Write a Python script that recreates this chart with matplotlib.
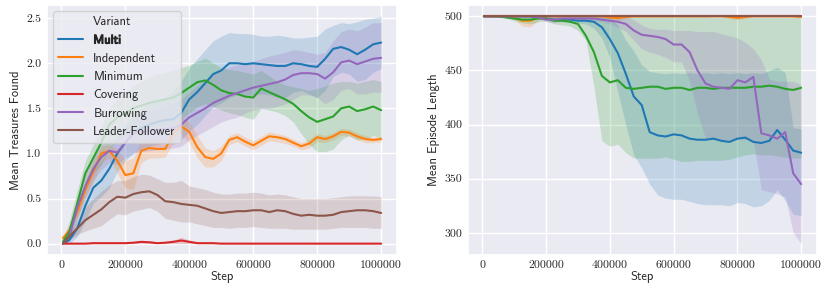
import matplotlib
matplotlib.use("Agg")
import matplotlib.pyplot as plt
import matplotlib.patheffects as pe
from matplotlib.lines import Line2D
from matplotlib.ticker import FuncFormatter, MultipleLocator
import seaborn as sns

# ---------------- data ----------------
steps = [5000, 25000, 50000, 75000, 100000, 125000, 150000, 175000, 200000, 225000,
         250000, 275000, 300000, 325000, 350000, 375000, 400000, 425000, 450000, 475000,
         500000, 525000, 550000, 575000, 600000, 625000, 650000, 675000, 700000, 725000,
         750000, 775000, 800000, 825000, 850000, 875000, 900000, 925000, 950000, 975000,
         1000000]

variants = ["Multi", "Independent", "Minimum", "Covering", "Burrowing", "Leader-Follower"]
colors = ["#1f77b4", "#ff7f0e", "#2ca02c", "#d62728", "#9467bd", "#8c564b"]

# --- Mean Treasures Found (left) ---
tr_multi = [0.00, 0.04, 0.17, 0.42, 0.62, 0.70, 0.83, 1.00, 1.12, 1.22,
            1.28, 1.32, 1.35, 1.37, 1.38, 1.45, 1.60, 1.68, 1.78, 1.88,
            1.92, 2.00, 2.00, 1.99, 2.00, 1.99, 1.98, 1.97, 1.97, 2.00,
            1.99, 1.97, 1.96, 2.05, 2.16, 2.18, 2.15, 2.10, 2.15, 2.21,
            2.23]
tr_multi_hi = [0.02, 0.10, 0.30, 0.60, 0.82, 0.92, 1.05, 1.20, 1.32, 1.42,
               1.50, 1.55, 1.58, 1.62, 1.70, 1.80, 1.95, 2.05, 2.15, 2.25,
               2.30, 2.34, 2.33, 2.33, 2.32, 2.30, 2.30, 2.31, 2.30, 2.28,
               2.28, 2.29, 2.30, 2.38, 2.42, 2.45, 2.44, 2.46, 2.49, 2.50,
               2.52]
tr_multi_lo = [0.00, 0.00, 0.08, 0.25, 0.45, 0.52, 0.62, 0.80, 0.92, 1.00,
               1.05, 1.08, 1.10, 1.12, 1.10, 1.15, 1.25, 1.32, 1.42, 1.52,
               1.56, 1.62, 1.65, 1.64, 1.65, 1.66, 1.65, 1.62, 1.62, 1.68,
               1.70, 1.66, 1.62, 1.70, 1.85, 1.90, 1.88, 1.80, 1.82, 1.90,
               1.94]

tr_indep = [0.06, 0.15, 0.35, 0.60, 0.80, 1.00, 1.03, 0.92, 0.76, 0.78,
            1.03, 1.06, 1.05, 1.05, 1.22, 1.30, 1.24, 1.07, 0.96, 0.94,
            1.00, 1.15, 1.18, 1.13, 1.09, 1.14, 1.19, 1.18, 1.16, 1.12,
            1.08, 1.11, 1.18, 1.16, 1.19, 1.24, 1.23, 1.19, 1.16, 1.15,
            1.16]
tr_indep_hi = [0.08, 0.20, 0.42, 0.70, 0.92, 1.08, 1.10, 1.05, 0.92, 0.95,
               1.16, 1.17, 1.15, 1.14, 1.32, 1.40, 1.35, 1.20, 1.06, 1.03,
               1.08, 1.20, 1.23, 1.18, 1.14, 1.19, 1.24, 1.22, 1.20, 1.16,
               1.12, 1.16, 1.22, 1.20, 1.23, 1.28, 1.27, 1.23, 1.20, 1.18,
               1.19]
tr_indep_lo = [0.04, 0.10, 0.28, 0.50, 0.68, 0.90, 0.95, 0.78, 0.62, 0.60,
               0.90, 0.95, 0.95, 0.96, 1.12, 1.20, 1.12, 0.95, 0.85, 0.85,
               0.92, 1.10, 1.13, 1.08, 1.04, 1.09, 1.14, 1.13, 1.11, 1.08,
               1.04, 1.06, 1.13, 1.12, 1.15, 1.20, 1.19, 1.15, 1.12, 1.12,
               1.13]

tr_min = [0.02, 0.13, 0.45, 0.78, 0.95, 1.12, 1.32, 1.40, 1.45, 1.50,
          1.53, 1.56, 1.58, 1.60, 1.62, 1.67, 1.73, 1.79, 1.81, 1.76,
          1.70, 1.67, 1.66, 1.63, 1.62, 1.72, 1.68, 1.64, 1.60, 1.55,
          1.47, 1.40, 1.35, 1.38, 1.41, 1.50, 1.52, 1.47, 1.49, 1.52,
          1.48]
tr_min_hi = [0.05, 0.25, 0.60, 0.92, 1.10, 1.30, 1.50, 1.60, 1.68, 1.75,
             1.80, 1.85, 1.88, 1.90, 1.92, 1.95, 1.98, 2.02, 2.06, 2.00,
             1.95, 1.93, 1.92, 1.90, 1.88, 1.92, 1.86, 1.80, 1.76, 1.74,
             1.72, 1.70, 1.72, 1.75, 1.78, 1.80, 1.80, 1.78, 1.80, 1.82,
             1.80]
tr_min_lo = [0.00, 0.08, 0.30, 0.58, 0.78, 0.88, 1.05, 1.15, 1.20, 1.25,
             1.27, 1.28, 1.30, 1.30, 1.32, 1.38, 1.45, 1.52, 1.55, 1.52,
             1.48, 1.45, 1.43, 1.40, 1.38, 1.50, 1.48, 1.46, 1.42, 1.35,
             1.22, 1.10, 1.02, 1.02, 1.05, 1.15, 1.20, 1.15, 1.16, 1.20,
             1.17]

tr_cov = [0.00, 0.00, 0.00, 0.00, 0.005, 0.005, 0.005, 0.005, 0.005, 0.01,
          0.02, 0.015, 0.005, 0.01, 0.02, 0.035, 0.02, 0.005, 0.005, 0.005,
          0.00, 0.00, 0.00, 0.00, 0.00, 0.00, 0.00, 0.00, 0.00, 0.00,
          0.00, 0.00, 0.00, 0.00, 0.00, 0.00, 0.00, 0.00, 0.00, 0.00,
          0.00]
tr_cov_hi = [0.01, 0.01, 0.01, 0.01, 0.015, 0.015, 0.015, 0.015, 0.02, 0.025,
             0.035, 0.03, 0.02, 0.025, 0.04, 0.07, 0.04, 0.02, 0.015, 0.015,
             0.01, 0.01, 0.01, 0.005, 0.005, 0.005, 0.005, 0.005, 0.005, 0.005,
             0.005, 0.005, 0.005, 0.005, 0.005, 0.005, 0.005, 0.005, 0.005, 0.005,
             0.005]
tr_cov_lo = [0.00, 0.00, 0.00, 0.00, 0.00, 0.00, 0.00, 0.00, 0.00, 0.00,
             0.00, 0.00, 0.00, 0.00, 0.00, 0.00, 0.00, 0.00, 0.00, 0.00,
             0.00, 0.00, 0.00, 0.00, 0.00, 0.00, 0.00, 0.00, 0.00, 0.00,
             0.00, 0.00, 0.00, 0.00, 0.00, 0.00, 0.00, 0.00, 0.00, 0.00,
             0.00]

tr_bur = [0.00, 0.08, 0.40, 0.64, 0.83, 0.96, 1.03, 1.01, 1.12, 1.22,
          1.24, 1.25, 1.26, 1.27, 1.28, 1.32, 1.40, 1.45, 1.50, 1.56,
          1.60, 1.64, 1.67, 1.70, 1.73, 1.75, 1.77, 1.79, 1.82, 1.87,
          1.89, 1.89, 1.88, 1.83, 1.90, 2.01, 2.03, 1.99, 2.02, 2.05,
          2.06]
tr_bur_hi = [0.02, 0.14, 0.52, 0.77, 0.96, 1.10, 1.15, 1.15, 1.30, 1.40,
             1.45, 1.48, 1.50, 1.52, 1.55, 1.60, 1.68, 1.75, 1.82, 1.88,
             1.92, 1.96, 1.98, 2.00, 2.02, 2.05, 2.08, 2.10, 2.12, 2.15,
             2.14, 2.12, 2.10, 2.12, 2.25, 2.35, 2.38, 2.36, 2.40, 2.45,
             2.45]
tr_bur_lo = [0.00, 0.03, 0.28, 0.52, 0.70, 0.82, 0.90, 0.88, 0.95, 1.00,
             1.02, 1.03, 1.04, 1.05, 1.06, 1.08, 1.15, 1.20, 1.25, 1.30,
             1.35, 1.38, 1.40, 1.45, 1.48, 1.50, 1.50, 1.52, 1.55, 1.60,
             1.65, 1.65, 1.62, 1.55, 1.60, 1.70, 1.72, 1.66, 1.66, 1.68,
             1.68]

tr_lead = [0.00, 0.08, 0.17, 0.26, 0.32, 0.38, 0.46, 0.52, 0.51, 0.55,
           0.57, 0.58, 0.54, 0.47, 0.46, 0.44, 0.43, 0.42, 0.39, 0.36,
           0.34, 0.35, 0.36, 0.36, 0.37, 0.37, 0.35, 0.37, 0.36, 0.33,
           0.31, 0.32, 0.31, 0.31, 0.32, 0.35, 0.36, 0.37, 0.37, 0.36,
           0.34]
tr_lead_hi = [0.02, 0.12, 0.25, 0.40, 0.50, 0.58, 0.65, 0.70, 0.70, 0.74,
              0.77, 0.76, 0.72, 0.68, 0.68, 0.70, 0.64, 0.62, 0.60, 0.57,
              0.55, 0.55, 0.56, 0.56, 0.57, 0.56, 0.54, 0.55, 0.54, 0.52,
              0.50, 0.50, 0.50, 0.50, 0.51, 0.52, 0.53, 0.53, 0.53, 0.53,
              0.52]
tr_lead_lo = [0.00, 0.04, 0.10, 0.14, 0.17, 0.20, 0.27, 0.33, 0.32, 0.36,
              0.38, 0.40, 0.36, 0.28, 0.26, 0.24, 0.24, 0.22, 0.20, 0.18,
              0.18, 0.17, 0.18, 0.18, 0.19, 0.18, 0.17, 0.17, 0.17, 0.16,
              0.16, 0.16, 0.16, 0.16, 0.17, 0.18, 0.18, 0.18, 0.18, 0.17,
              0.17]

# --- Mean Episode Length (right) ---
ep_multi = [500, 500, 500, 500, 500, 500, 500, 499, 498, 497,
            497, 497, 496, 496, 495, 490, 479, 466, 447, 426,
            418, 393, 390, 389, 391, 390, 387, 386, 386, 387,
            385, 384, 387, 388, 384, 383, 385, 395, 386, 376,
            374]
ep_multi_hi = [500, 500, 500, 500, 500, 500, 500, 500, 500, 500,
               500, 500, 500, 500, 500, 500, 499, 492, 478, 468,
               455, 449, 448, 447, 448, 447, 448, 447, 448, 447,
               448, 447, 448, 447, 448, 447, 450, 453, 448, 397,
               396]
ep_multi_lo = [500, 500, 500, 500, 500, 500, 500, 499, 497, 495,
               495, 495, 494, 493, 489, 480, 462, 430, 400, 372,
               360, 345, 335, 332, 331, 331, 329, 327, 326, 326,
               326, 325, 328, 327, 324, 325, 330, 340, 330, 317,
               316]

ep_indep = [500, 500, 500, 500, 499, 496, 496, 499, 500, 500,
            500, 500, 500, 500, 500, 500, 499, 498.5, 499.5, 500,
            500, 500, 500, 500, 500, 500, 500, 500, 500, 500,
            500, 499.5, 498.5, 499.5, 500, 500, 500, 500, 500, 500,
            499.5]
ep_indep_hi = [500, 500, 500, 500, 500, 500, 500, 500, 500, 500,
               500, 500, 500, 500, 500, 500, 500, 500, 500, 500,
               500, 500, 500, 500, 500, 500, 500, 500, 500, 500,
               500, 500, 500, 500, 500, 500, 500, 500, 500, 500,
               500]
ep_indep_lo = [500, 500, 500, 500, 497, 491, 490, 496, 500, 500,
               500, 500, 500, 500, 500, 500, 497, 496, 498, 500,
               500, 500, 500, 500, 500, 500, 500, 500, 500, 500,
               500, 498, 497, 498, 500, 500, 500, 500, 500, 499,
               498.5]

ep_min = [500, 500, 500, 499, 498, 497, 497, 498, 498, 496,
          496, 495, 493, 482, 467, 445, 439, 441, 434, 433,
          434, 435, 435, 433, 434, 434, 432, 434, 434, 433,
          434, 434, 434, 434, 435, 435, 436, 435, 433, 432,
          434]
ep_min_hi = [500, 500, 500, 500, 500, 500, 500, 500, 500, 500,
             500, 500, 500, 500, 500, 500, 500, 500, 500, 500,
             500, 500, 500, 500, 500, 500, 500, 500, 500, 499,
             499, 499, 499, 499, 499, 499, 499, 499, 499, 499,
             499]
ep_min_lo = [500, 500, 500, 498, 496, 494, 493, 495, 496, 493,
             492, 491, 487, 478, 435, 385, 380, 382, 374, 369,
             369, 369, 369, 370, 368, 366, 366, 367, 367, 367,
             367, 368, 370, 372, 373, 372, 372, 371, 370, 369,
             369]

ep_cov = [500, 500, 500, 500, 500, 500, 500, 500, 500, 500,
          500, 500, 500, 500, 500, 500, 500, 500, 500, 500,
          500, 500, 500, 500, 500, 500, 500, 500, 500, 500,
          500, 500, 500, 500, 500, 500, 500, 500, 500, 500,
          500]
ep_cov_hi = ep_cov
ep_cov_lo = ep_cov

ep_bur = [500, 500, 500, 500, 500, 500, 500, 499, 497, 497,
          498, 498, 498, 498, 498, 497, 496, 495, 493, 487,
          483, 482, 481, 479, 474, 474, 467, 450, 438, 435,
          434, 433, 441, 439, 444, 392, 390, 387, 393, 355,
          345]
ep_bur_hi = [500, 500, 500, 500, 500, 500, 500, 500, 500, 500,
             500, 500, 500, 500, 500, 500, 500, 500, 500, 497,
             492, 489, 488, 488, 487, 487, 487, 486, 486, 486,
             484, 482, 480, 476, 470, 460, 442, 440, 440, 440,
             437]
ep_bur_lo = [500, 500, 500, 500, 500, 500, 500, 498, 495, 494,
             496, 497, 497, 497, 496, 495, 493, 490, 486, 478,
             470, 467, 465, 462, 458, 458, 440, 410, 387, 387,
             386, 386, 387, 386, 385, 340, 338, 336, 333, 300,
             290]

ep_lead = [500, 500, 500, 500, 500, 500, 500, 500, 500, 500,
           500, 500, 500, 500, 500, 500, 500, 500, 500, 500,
           500, 500, 500, 500, 500, 500, 500, 500, 500, 500,
           500, 500, 500, 500, 500, 500, 500, 500, 500, 500,
           500]
ep_lead_hi = ep_lead
ep_lead_lo = ep_lead

treasures = [(tr_multi, tr_multi_lo, tr_multi_hi),
             (tr_indep, tr_indep_lo, tr_indep_hi),
             (tr_min, tr_min_lo, tr_min_hi),
             (tr_cov, tr_cov_lo, tr_cov_hi),
             (tr_bur, tr_bur_lo, tr_bur_hi),
             (tr_lead, tr_lead_lo, tr_lead_hi)]
episodes = [(ep_multi, ep_multi_lo, ep_multi_hi),
            (ep_indep, ep_indep_lo, ep_indep_hi),
            (ep_min, ep_min_lo, ep_min_hi),
            (ep_cov, ep_cov_lo, ep_cov_hi),
            (ep_bur, ep_bur_lo, ep_bur_hi),
            (ep_lead, ep_lead_lo, ep_lead_hi)]

x_ticks = [0, 200000, 400000, 600000, 800000, 1000000]

# ---------------- style ----------------
sns.set_theme(style="darkgrid")
plt.rcParams["font.family"] = ["cmss10", "DejaVu Sans"]
plt.rcParams["axes.unicode_minus"] = False
TEXT = "0.15"

fig = plt.figure(figsize=(8.31, 2.98), dpi=100)
ax1 = fig.add_axes([0.0566, 0.1443, 0.4212, 0.8389])
ax2 = fig.add_axes([0.5632, 0.1443, 0.4200, 0.8389])


def draw(ax, series):
    for (mean, lo, hi), col in zip(series, colors):
        ax.fill_between(steps, lo, hi, color=col, alpha=0.2, linewidth=0, zorder=1)
    for (mean, lo, hi), col, name in zip(series, colors, variants):
        ax.plot(steps, mean, color=col, lw=1.5, zorder=2, label=name)


draw(ax1, treasures)
draw(ax2, episodes)

tick_font = dict(family="cmr10", size=8.5)
for ax in (ax1, ax2):
    ax.set_xticks(x_ticks)
    ax.xaxis.set_major_formatter(FuncFormatter(lambda v, p: "%d" % int(round(v))))
    ax.set_xlabel("Step", fontsize=9, color=TEXT, labelpad=1)
    ax.tick_params(axis="both", length=0, pad=4)
    for lab in ax.get_xticklabels() + ax.get_yticklabels():
        lab.set_fontfamily("cmr10")
        lab.set_fontsize(8.5)

ax1.yaxis.set_major_locator(MultipleLocator(0.5))
ax1.yaxis.set_major_formatter(FuncFormatter(lambda v, p: "%.1f" % v))
ax2.yaxis.set_major_locator(MultipleLocator(50))
ax2.yaxis.set_major_formatter(FuncFormatter(lambda v, p: "%d" % int(round(v))))
ax1.set_ylabel("Mean Treasures Found", fontsize=9, color=TEXT, labelpad=3)
ax2.set_ylabel("Mean Episode Length", fontsize=9, color=TEXT, labelpad=3)

for ax in (ax1, ax2):
    for lab in ax.get_xticklabels() + ax.get_yticklabels():
        lab.set_fontfamily("cmr10")
        lab.set_fontsize(8.5)
        lab.set_color(TEXT)

# legend with hue name as an invisible first row (old seaborn style)
handles, labels = ax1.get_legend_handles_labels()
title_handle = Line2D([], [], linestyle="none", marker=None)
leg = ax1.legend([title_handle] + handles, ["Variant"] + labels, loc="upper left",
                 fontsize=9, handlelength=2.0, borderaxespad=0.5)
for t in leg.get_texts():
    t.set_color(TEXT)
leg.get_texts()[1].set_path_effects([pe.withStroke(linewidth=0.8, foreground=TEXT)])

fig.savefig("out.png", dpi=100)
